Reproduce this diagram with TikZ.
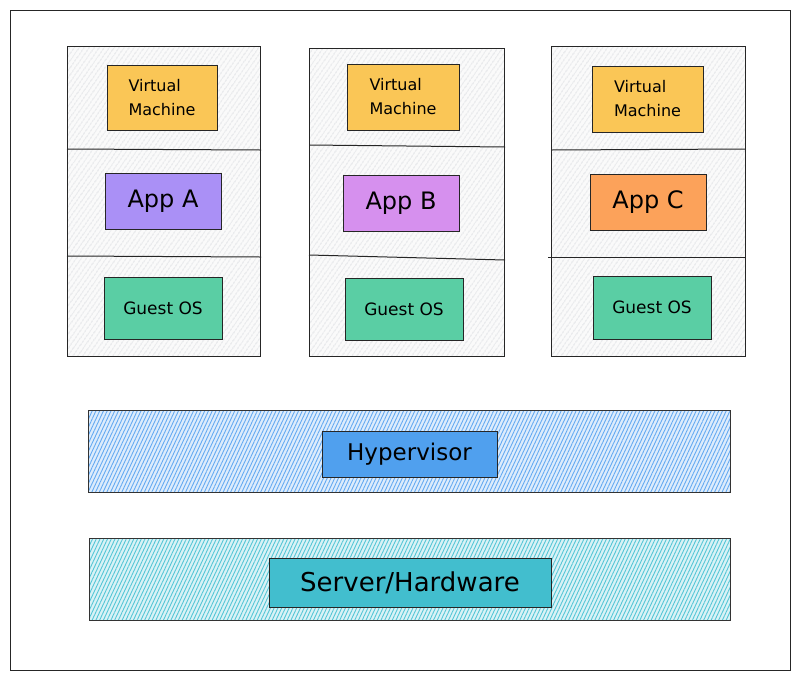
\documentclass[tikz,border=0pt]{standalone}
\usepackage{fontspec}
\setmainfont{DejaVu Sans}
\usetikzlibrary{patterns.meta}
\definecolor{vmc}{RGB}{250,198,86}
\definecolor{appa}{RGB}{170,144,246}
\definecolor{appb}{RGB}{214,144,238}
\definecolor{appc}{RGB}{252,162,90}
\definecolor{gos}{RGB}{90,206,164}
\definecolor{hypband}{RGB}{100,170,242}
\definecolor{hypin}{RGB}{80,160,238}
\definecolor{srvband}{RGB}{84,198,214}
\definecolor{srvin}{RGB}{66,190,206}
\definecolor{colhatch}{RGB}{210,213,218}
\tikzset{
  colbox/.style={draw=black!85, line width=1pt, preaction={fill=black!2}, pattern={Lines[angle=55,distance=4pt,line width=0.6pt]}, pattern color=colhatch, anchor=north west, inner sep=0pt},
  bandbox/.style={draw=black!80, line width=1pt, anchor=north west, inner sep=0pt},
  inbox/.style={draw=black!85, line width=0.9pt, inner sep=0pt, align=left, text=black},
  divline/.style={draw=black!85, line width=1pt},
  vmtxt/.style={font=\fontsize{16}{24}\selectfont},
  apptxt/.style={font=\fontsize{24}{26}\selectfont},
  ostxt/.style={font=\fontsize{17}{19}\selectfont},
}
\begin{document}
\begin{tikzpicture}[x=1pt,y=-1pt]
\useasboundingbox (0,0) rectangle (799,681);
\fill[white] (0,0) rectangle (799,681);
% outer frame
\node[draw=black!85, line width=1pt, anchor=north west, inner sep=0pt, minimum width=780pt, minimum height=660pt] (frame) at (10,10) {};
% columns
\node[colbox, minimum width=193pt, minimum height=310pt] (col1) at (67,46) {};
\node[colbox, minimum width=195pt, minimum height=308pt] (col2) at (309,48) {};
\node[colbox, minimum width=194pt, minimum height=310pt] (col3) at (551,46) {};
% dividers
\coordinate (d1a) at (67,149); \coordinate (d1b) at (261,150);
\coordinate (d1c) at (67,256); \coordinate (d1d) at (261,257);
\draw[divline] (d1a) -- (d1b); \draw[divline] (d1c) -- (d1d);
\coordinate (d2a) at (309,145); \coordinate (d2b) at (505,147);
\coordinate (d2c) at (309,255); \coordinate (d2d) at (505,260);
\draw[divline] (d2a) -- (d2b); \draw[divline] (d2c) -- (d2d);
\coordinate (d3a) at (551,150); \coordinate (d3b) at (745,149);
\coordinate (d3c) at (548,257); \coordinate (d3d) at (745,257);
\draw[divline] (d3a) -- (d3b); \draw[divline] (d3c) -- (d3d);
% column 1
\node[inbox, fill=vmc, minimum width=110pt, minimum height=65pt, vmtxt] (vm1) at (162,97.5) {Virtual\\Machine};
\node[inbox, fill=appa, minimum width=116pt, minimum height=56pt, apptxt] (appA) at (163,201) {App A};
\node[inbox, fill=gos, minimum width=118pt, minimum height=62pt, ostxt] (os1) at (163,308) {Guest OS};
% column 2
\node[inbox, fill=vmc, minimum width=112pt, minimum height=66pt, vmtxt] (vm2) at (403,97) {Virtual\\Machine};
\node[inbox, fill=appb, minimum width=116pt, minimum height=56pt, apptxt] (appB) at (401,203) {App B};
\node[inbox, fill=gos, minimum width=118pt, minimum height=62pt, ostxt] (os2) at (404,309) {Guest OS};
% column 3
\node[inbox, fill=vmc, minimum width=111pt, minimum height=66pt, vmtxt] (vm3) at (647.5,99) {Virtual\\Machine};
\node[inbox, fill=appc, minimum width=116pt, minimum height=56pt, apptxt] (appC) at (648,202) {App C};
\node[inbox, fill=gos, minimum width=118pt, minimum height=63pt, ostxt] (os3) at (652,307.5) {Guest OS};
% hypervisor band
\node[bandbox, preaction={fill=hypband!22!white}, pattern={Lines[angle=65,distance=3.4pt,line width=0.9pt]}, pattern color=hypband, minimum width=642pt, minimum height=82pt] (hypband) at (88,410) {};
\node[inbox, fill=hypin, minimum width=175pt, minimum height=46pt, font=\fontsize{23}{25}\selectfont] (hyp) at (409.5,454) {Hypervisor};
% server band
\node[bandbox, preaction={fill=srvband!22!white}, pattern={Lines[angle=65,distance=3.4pt,line width=0.9pt]}, pattern color=srvband, minimum width=641pt, minimum height=82pt] (srvband) at (89,538) {};
\node[inbox, fill=srvin, minimum width=282pt, minimum height=49pt, font=\fontsize{26}{28}\selectfont] (srv) at (410,582.5) {Server/Hardware};
\end{tikzpicture}
\end{document}
